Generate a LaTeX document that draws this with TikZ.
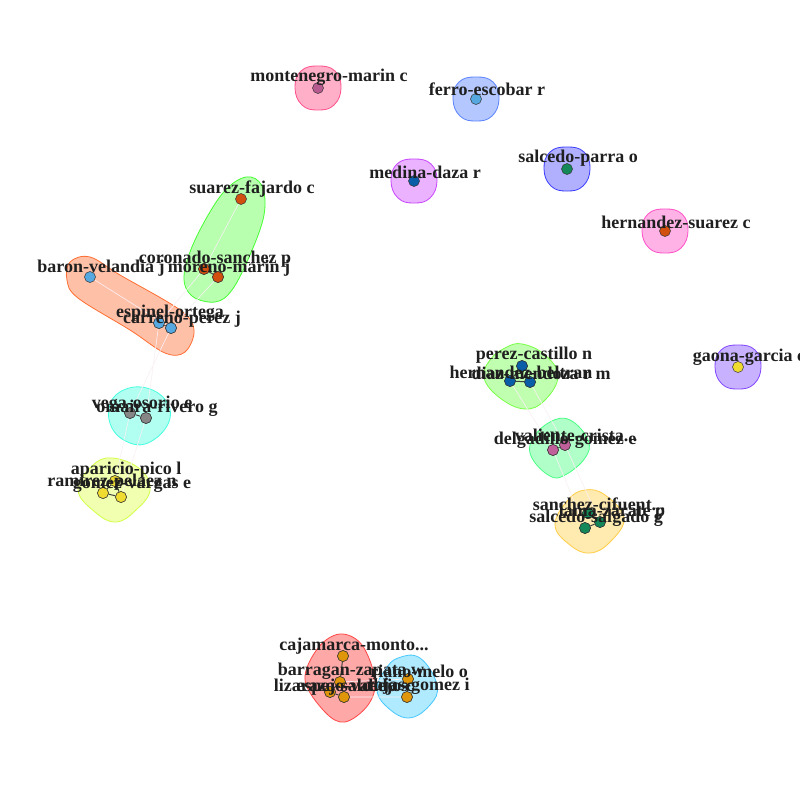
\documentclass[tikz,border=0pt]{standalone}
\usepackage{fontspec}
\setmainfont{Liberation Serif}
\begin{document}
\begin{tikzpicture}[x=1pt,y=-1pt,
  lab/.style={font=\fontsize{18}{20}\selectfont\bfseries, text=black!88, inner sep=0pt, anchor=center, yshift=-1.5pt},
  vtx/.style={circle, draw=black!80, line width=0.5pt, minimum size=11pt, inner sep=0pt},
  hull/.style={line width=0.8pt},
  ed/.style={draw=black!75, line width=1pt},
  faint/.style={draw={rgb,255:red,249;green,240;blue,244}, line width=0.6pt},
  sq/.pic={\filldraw[hull] plot[smooth cycle, tension=0.75] coordinates {(-23,0) (-17,-17) (0,-22) (17,-17) (23,0) (16,17) (0,22) (-16,17)};}
]
\definecolor{vmauve}{HTML}{B65A8F}
\definecolor{vsky}{HTML}{56A8E0}
\definecolor{vdblue}{HTML}{0A5EA8}
\definecolor{vgreen}{HTML}{15885A}
\definecolor{vorange}{HTML}{D2500F}
\definecolor{vyellow}{HTML}{F0DC30}
\definecolor{vgray}{HTML}{868686}
\definecolor{vpink}{HTML}{C0609A}
\definecolor{vamber}{HTML}{E0960A}
\useasboundingbox[fill=white] (0,0) rectangle (800,800);

% single-vertex hulls
\pic[fill={rgb,255:red,255;green,176;blue,200}, draw={rgb,255:red,255;green,80;blue,140}] at (318,88) {sq};
\pic[fill={rgb,255:red,180;green,200;blue,255}, draw={rgb,255:red,90;green,130;blue,255}] at (476,99) {sq};
\pic[fill={rgb,255:red,234;green,178;blue,255}, draw={rgb,255:red,200;green,70;blue,255}] at (414,181) {sq};
\pic[fill={rgb,255:red,176;green,176;blue,255}, draw={rgb,255:red,60;green,60;blue,255}] at (567,169) {sq};
\pic[fill={rgb,255:red,255;green,178;blue,230}, draw={rgb,255:red,255;green,80;blue,200}] at (665,231) {sq};
\pic[fill={rgb,255:red,200;green,178;blue,255}, draw={rgb,255:red,130;green,70;blue,255}] at (738,367) {sq};

% multi-vertex hulls
\filldraw[hull, fill={rgb,255:red,184;green,255;blue,176}, draw={rgb,255:red,70;green,255;blue,50}]
  plot[smooth cycle, tension=0.6] coordinates {(246,177) (262,186) (264,215) (250,255) (232,290) (215,302) (192,296) (184,276) (195,240) (222,194)};
\filldraw[hull, fill={rgb,255:red,255;green,192;blue,168}, draw={rgb,255:red,255;green,110;blue,50}]
  plot[smooth cycle, tension=0.6] coordinates {(70,262) (90,257) (120,275) (180,310) (194,330) (185,352) (165,353) (130,330) (78,298) (67,280)};
\filldraw[hull, fill={rgb,255:red,176;green,255;blue,240}, draw={rgb,255:red,70;green,255;blue,225}]
  plot[smooth cycle, tension=0.7] coordinates {(110,404) (126,389) (150,389) (168,404) (168,424) (150,442) (130,443) (112,428)};
\filldraw[hull, fill={rgb,255:red,240;green,255;blue,176}, draw={rgb,255:red,210;green,255;blue,70}]
  plot[smooth cycle, tension=0.7] coordinates {(92,466) (112,458) (140,469) (150,490) (136,510) (116,522) (95,512) (78,490)};
\filldraw[hull, fill={rgb,255:red,192;green,255;blue,176}, draw={rgb,255:red,120;green,255;blue,70}]
  plot[smooth cycle, tension=0.7] coordinates {(505,348) (522,344) (545,355) (558,376) (545,400) (525,409) (500,398) (484,378) (490,360)};
\filldraw[hull, fill={rgb,255:red,176;green,255;blue,200}, draw={rgb,255:red,70;green,255;blue,130}]
  plot[smooth cycle, tension=0.7] coordinates {(550,422) (570,420) (588,440) (585,458) (565,475) (550,476) (532,458) (532,440)};
\filldraw[hull, fill={rgb,255:red,255;green,234;blue,176}, draw={rgb,255:red,255;green,205;blue,70}]
  plot[smooth cycle, tension=0.7] coordinates {(585,490) (605,495) (624,518) (610,542) (590,553) (570,545) (555,525) (568,500)};
\filldraw[hull, fill={rgb,255:red,255;green,168;blue,168}, draw={rgb,255:red,255;green,70;blue,70}]
  plot[smooth cycle, tension=0.6] coordinates {(340,634) (362,645) (375,680) (368,705) (345,722) (325,712) (305,680) (318,648)};
\filldraw[hull, fill={rgb,255:red,176;green,234;blue,255}, draw={rgb,255:red,70;green,200;blue,255}]
  plot[smooth cycle, tension=0.7] coordinates {(398,658) (420,658) (437,685) (430,705) (408,718) (385,705) (377,688) (385,670)};

% vertices
\node[vtx, fill=vmauve] (mm) at (318,88) {};
\node[vtx, fill=vsky] (fe) at (476,99) {};
\node[vtx, fill=vdblue] (md) at (414,181) {};
\node[vtx, fill=vgreen] (sp) at (567,169) {};
\node[vtx, fill=vorange] (hs) at (665,231) {};
\node[vtx, fill=vyellow] (gg) at (738,367) {};
\node[vtx, fill=vorange] (sf) at (241,199) {};
\node[vtx, fill=vorange] (cs) at (204,269) {};
\node[vtx, fill=vorange] (mo) at (218,277) {};
\node[vtx, fill=vsky] (bv) at (90,277) {};
\node[vtx, fill=vsky] (es) at (159,323) {};
\node[vtx, fill=vsky] (cp) at (171,328) {};
\node[vtx, fill=vgray] (vo) at (130,413) {};
\node[vtx, fill=vgray] (om) at (146,418) {};
\node[vtx, fill=vyellow] (ap) at (115,481) {};
\node[vtx, fill=vyellow] (rp) at (103,493) {};
\node[vtx, fill=vyellow] (gv) at (121,497) {};
\node[vtx, fill=vdblue] (pc) at (522,366) {};
\node[vtx, fill=vdblue] (hb) at (510,381) {};
\node[vtx, fill=vdblue] (dm) at (530,382) {};
\node[vtx, fill=vpink] (dg) at (553,450) {};
\node[vtx, fill=vpink] (vc) at (565,445) {};
\node[vtx, fill=vgreen] (sc) at (588,513) {};
\node[vtx, fill=vgreen] (ss) at (585,528) {};
\node[vtx, fill=vgreen] (lz) at (600,522) {};
\node[vtx, fill=vamber] (cm) at (343,656) {};
\node[vtx, fill=vamber] (bz) at (340,682) {};
\node[vtx, fill=vamber] (ls) at (330,692) {};
\node[vtx, fill=vamber] (ev) at (344,697) {};
\node[vtx, fill=vamber] (rm) at (408,679) {};
\node[vtx, fill=vamber] (rg) at (407,697) {};

% faint edges
\path[faint] (es) -- (cs) (cp) -- (mo) (bv) -- (cp) (sf) -- (cs) (cp) -- (vo) (es) -- (om) (vo) -- (ap) (om) -- (gv)
  (hb) -- (dg) (dm) -- (vc) (dg) -- (ss) (vc) -- (lz) (bz) -- (rm) (ev) -- (rg);
% strong edges
\path[ed] (cs) -- (mo) (es) -- (cp) (vo) -- (om) (ap) -- (rp) (rp) -- (gv) (ap) -- (gv)
  (hb) -- (dm) (pc) -- (hb) (dg) -- (vc) (sc) -- (lz) (ss) -- (lz)
  (cm) -- (bz) (bz) -- (ls) (ls) -- (ev) (bz) -- (ev) (rm) -- (rg);
% redraw vertices on top of edges
\foreach \n/\c in {cs/vorange,mo/vorange,es/vsky,cp/vsky,vo/vgray,om/vgray,ap/vyellow,rp/vyellow,gv/vyellow,pc/vdblue,hb/vdblue,dm/vdblue,dg/vpink,vc/vpink,sc/vgreen,ss/vgreen,lz/vgreen,cm/vamber,bz/vamber,ls/vamber,ev/vamber,rm/vamber,rg/vamber}
  \node[vtx, fill=\c] at (\n) {};

% labels
\node[lab] (lmm) at (329,76) {montenegro-marin c};
\node[lab] (lfe) at (487,88) {ferro-escobar r};
\node[lab] (lmd) at (425,171) {medina-daza r};
\node[lab] (lsp) at (578,157) {salcedo-parra o};
\node[lab] (lhs) at (676,221) {hernandez-suarez c};
\node[lab] (lgg) at (749,356) {gaona-garcia c};
\node[lab] (lsf) at (252,188) {suarez-fajardo c};
\node[lab] (lcs) at (215,258) {coronado-sanchez p};
\node[lab] (lmo) at (229,267) {moreno-marin j};
\node[lab] (lbv) at (101,267) {baron-velandia j};
\node[lab] (les) at (170,312) {espinel-ortega};
\node[lab] (lcp) at (182,318) {carreno-perez j};
\node[lab] (lvo) at (142,403) {vega-osorio e};
\node[lab] (lom) at (157,407) {omaira-rivero g};
\node[lab] (lap) at (126,469) {aparicio-pico l};
\node[lab] (lrp) at (112,481) {ramirez-pelaez n};
\node[lab] (lgv) at (132,484) {gomez-vargas e};
\node[lab] (lpc) at (534,354) {perez-castillo n};
\node[lab] (lhb) at (521,371) {hernandez-beltran};
\node[lab] (ldm) at (541,372) {diaz-mendoza r m};
\node[lab] (ldg) at (565,439) {delgadillo-gomez e};
\node[lab] (lvc) at (576,434) {valiente-crista...};
\node[lab] (lsc) at (599,503) {sanchez-cifuent...};
\node[lab] (lss) at (596,517) {salcedo-salgado g};
\node[lab] (llz) at (612,511) {lama-zarate p};
\node[lab] (lcm) at (354,645) {cajamarca-monto...};
\node[lab] (lbz) at (351,670) {barragan-zapata w};
\node[lab] (lls) at (341,684) {lizarazo-salcedo s};
\node[lab] (lev) at (355,686) {espejo-vallejo c};
\node[lab] (lrm) at (419,670) {riano-melo o};
\node[lab] (lrg) at (418,685) {rojas-gomez i};
\end{tikzpicture}
\end{document}
